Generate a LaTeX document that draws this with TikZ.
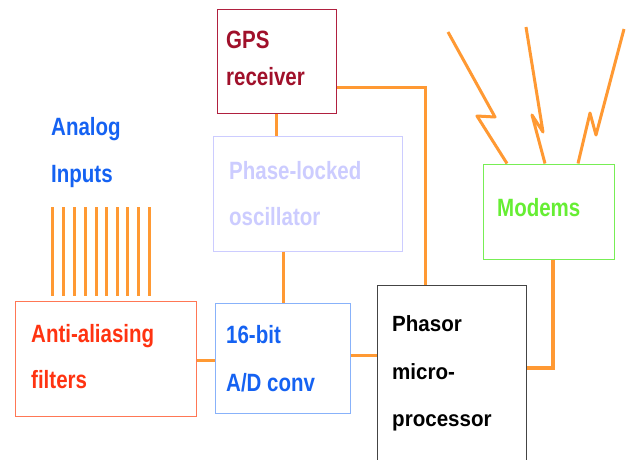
\documentclass[tikz,border=0pt]{standalone}
\usepackage{fontspec}
\newfontfamily\lbs{Liberation Sans}[FakeStretch=0.82]
\newfontfamily\lbsp{Liberation Sans}[FakeStretch=0.935]
\definecolor{wireor}{HTML}{FF9933}
\definecolor{gpsbd}{HTML}{B0203F}
\definecolor{gpstx}{HTML}{A0102A}
\definecolor{pllc}{HTML}{CCCCFF}
\definecolor{adbd}{HTML}{88B2FA}
\definecolor{bluetx}{HTML}{1562F2}
\definecolor{aabd}{HTML}{FF7755}
\definecolor{aatx}{HTML}{FF3311}
\definecolor{modbd}{HTML}{77EE55}
\definecolor{modtx}{HTML}{66EE33}
\definecolor{phbd}{HTML}{444444}
\begin{document}
\begin{tikzpicture}[x=1pt,y=-1pt,
  blk/.style={draw,rectangle,inner sep=0pt,line width=1pt},
  lbl/.style={anchor=base west,inner sep=0pt,font=\lbs\bfseries\fontsize{25}{30}\selectfont},
  plbl/.style={anchor=base west,inner sep=0pt,font=\lbsp\bfseries\fontsize{22}{26}\selectfont,text=black},
  wire/.style={draw=wireor,line width=3pt},
  bolt/.style={draw=wireor,line width=3pt,line join=round}]
\useasboundingbox[fill=white] (0,0) rectangle (629,459);
% boxes
\node[blk,draw=gpsbd,minimum width=119pt,minimum height=104pt] (gps) at (276.5,61) {};
\node[blk,draw=pllc,minimum width=189pt,minimum height=115pt] (pll) at (307.5,193.5) {};
\node[blk,draw=adbd,minimum width=135pt,minimum height=110pt] (ad) at (282.5,358) {};
\node[blk,draw=aabd,minimum width=181pt,minimum height=115pt] (aa) at (105.5,358.5) {};
\node[blk,draw=phbd,minimum width=149pt,minimum height=177pt] (ph) at (451.5,373.5) {};
\node[blk,draw=modbd,minimum width=131pt,minimum height=95pt] (mod) at (548.5,211.5) {};
% labels
\node[lbl,text=gpstx] (gpsA) at (226,48) {GPS};
\node[lbl,text=gpstx] (gpsB) at (226,85) {receiver};
\node[lbl,text=pllc] (pllA) at (229,179) {Phase-locked};
\node[lbl,text=pllc] (pllB) at (229,225) {oscillator};
\node[lbl,text=bluetx] (anA) at (51,135) {Analog};
\node[lbl,text=bluetx] (anB) at (51,182) {Inputs};
\node[lbl,text=aatx] (aaA) at (31,342) {Anti-aliasing};
\node[lbl,text=aatx] (aaB) at (31,388) {filters};
\node[lbl,text=bluetx] (adA) at (226,343) {16-bit};
\node[lbl,text=bluetx] (adB) at (226,391) {A/D conv};
\node[lbl,text=modtx] (modA) at (497,216) {Modems};
\node[plbl] (phA) at (392,331) {Phasor};
\node[plbl] (phB) at (392,379) {micro-};
\node[plbl] (phC) at (392,426) {processor};
% helper coordinates
\coordinate (y87) at (0,87);
\coordinate (x425) at (425,0);
\coordinate (x283) at (283,0);
\coordinate (y360) at (0,360);
\coordinate (y355) at (0,355);
\coordinate (x553) at (553,0);
\coordinate (y368) at (0,368);
% connectors
\draw[wire] (gps.east |- y87) -| (ph.north -| x425);
\draw[wire] (gps.south) -- (gps.south |- pll.north);
\draw[wire] (pll.south -| x283) -- (ad.north -| x283);
\draw[wire] (aa.east |- y360) -- (ad.west |- y360);
\draw[wire] (ad.east |- y355) -- (ph.west |- y355);
\draw[wire,line width=4pt] (mod.south -| x553) |- (ph.east |- y368);
% analog input lines
\foreach \xx [count=\i] in {52.7,63.3,74,85,96,106.7,117,127.7,138.7,149.7}{
  \coordinate (inT\i) at (\xx,207);
  \coordinate (inB\i) at (\xx,296);
  \draw[wire] (inT\i) -- (inB\i);
}
% antenna bolts
\coordinate (b1a) at (448,32);
\coordinate (b1b) at (495,117);
\coordinate (b1c) at (477,116);
\coordinate (b1d) at (mod.north -| 507,0);
\coordinate (b2a) at (526,27);
\coordinate (b2b) at (543,132);
\coordinate (b2c) at (532,115);
\coordinate (b2d) at (mod.north -| 545,0);
\coordinate (b3a) at (624,29);
\coordinate (b3b) at (596,135);
\coordinate (b3c) at (590,113);
\coordinate (b3d) at (mod.north -| 578,0);
\draw[bolt] (b1a) -- (b1b) -- (b1c) -- (b1d);
\draw[bolt] (b2a) -- (b2b) -- (b2c) -- (b2d);
\draw[bolt] (b3a) -- (b3b) -- (b3c) -- (b3d);
\end{tikzpicture}
\end{document}
